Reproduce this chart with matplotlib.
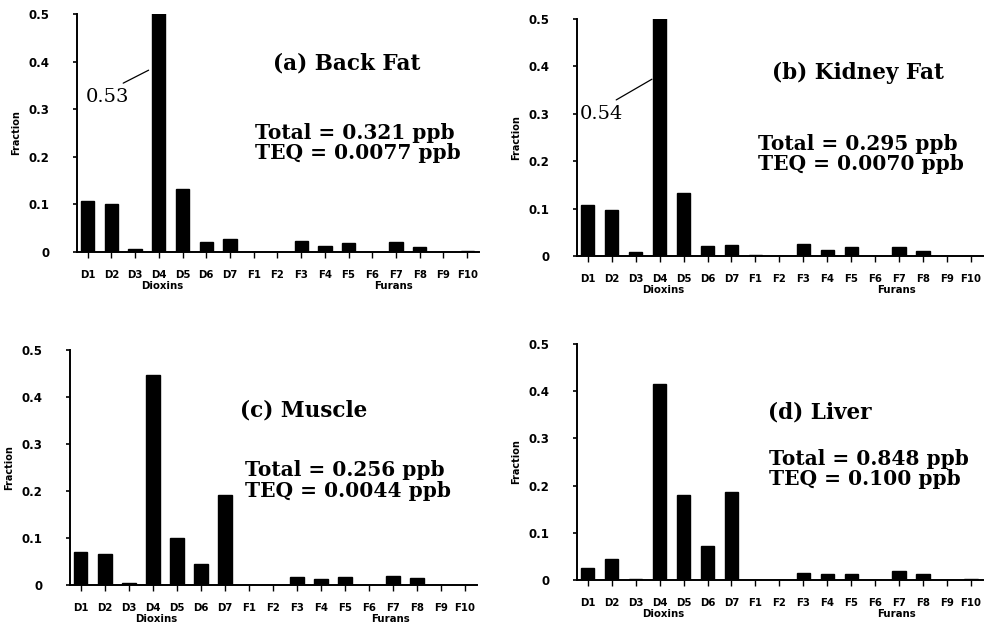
import matplotlib
matplotlib.use("Agg")
import matplotlib.pyplot as plt
import numpy as np

categories = ["D1", "D2", "D3", "D4", "D5", "D6", "D7", "F1", "F2", "F3",
              "F4", "F5", "F6", "F7", "F8", "F9", "F10"]

back_fat = [0.108, 0.101, 0.006, 0.53, 0.132, 0.021, 0.027, 0.0, 0.001, 0.024,
            0.013, 0.018, 0.001, 0.020, 0.010, 0.001, 0.002]
kidney_fat = [0.107, 0.098, 0.008, 0.54, 0.132, 0.021, 0.023, 0.002, 0.001, 0.026,
              0.013, 0.019, 0.0, 0.020, 0.010, 0.0, 0.0]
muscle = [0.071, 0.066, 0.005, 0.447, 0.099, 0.045, 0.191, 0.001, 0.001, 0.018,
          0.012, 0.017, 0.001, 0.020, 0.015, 0.001, 0.001]
liver = [0.025, 0.044, 0.002, 0.415, 0.180, 0.072, 0.186, 0.001, 0.001, 0.015,
         0.012, 0.013, 0.001, 0.020, 0.013, 0.001, 0.003]

titles = ["(a) Back Fat", "(b) Kidney Fat", "(c) Muscle", "(d) Liver"]
totals = ["Total = 0.321 ppb\nTEQ = 0.0077 ppb",
          "Total = 0.295 ppb\nTEQ = 0.0070 ppb",
          "Total = 0.256 ppb\nTEQ = 0.0044 ppb",
          "Total = 0.848 ppb\nTEQ = 0.100 ppb"]
peak_labels = ["0.53", "0.54", None, None]
yticks = [0, 0.1, 0.2, 0.3, 0.4, 0.5]
ytick_labels = ["0", "0.1", "0.2", "0.3", "0.4", "0.5"]
group_labels = ["Dioxins", "Furans"]

series = [back_fat, kidney_fat, muscle, liver]

fig = plt.figure(figsize=(9.91, 6.25), dpi=100)
rects = [
    [0.0777, 0.5968, 0.4057, 0.3808],
    [0.5822, 0.5904, 0.4097, 0.3792],
    [0.0706, 0.0640, 0.4107, 0.3760],
    [0.5822, 0.0720, 0.4097, 0.3776],
]
title_pos = [(7.8, 0.397), (7.7, 0.386), (6.65, 0.372), (7.54, 0.354)]
total_pos = [(7.07, 0.229), (7.1, 0.215), (6.86, 0.223), (7.58, 0.235)]
peak_text_pos = [(-0.08, 0.326), (-0.34, 0.30)]
peak_line_end = [(2.57, 0.382), (2.68, 0.373)]

sans = "DejaVu Sans"
serif = "DejaVu Serif"

for i, vals in enumerate(series):
    ax = fig.add_axes(rects[i])
    x = np.arange(len(categories))
    ax.bar(x, vals, width=0.56, color="black", edgecolor="black")
    ax.set_xlim(-0.45, len(categories) - 0.5)
    ax.set_ylim(0, 0.5)
    ax.spines["top"].set_visible(False)
    ax.spines["right"].set_visible(False)
    for s in ["left", "bottom"]:
        ax.spines[s].set_linewidth(1.4)
    ax.set_yticks(yticks)
    ax.set_yticklabels(ytick_labels, fontfamily=sans, fontweight="bold", fontsize=8.5)
    ax.set_xticks(x)
    ax.set_xticklabels(categories, fontfamily=sans, fontweight="bold", fontsize=7.3)
    ax.tick_params(axis="y", direction="out", length=3, width=1.2, pad=17)
    ax.tick_params(axis="x", direction="out", length=4, width=1.0, pad=9)
    ax.set_ylabel("Fraction", fontfamily=sans, fontweight="bold", fontsize=7, labelpad=5)
    # group labels under the ticks
    ax.text(3.16, -0.072, group_labels[0], ha="center", va="center",
            fontfamily=sans, fontweight="bold", fontsize=7.3)
    ax.text(12.9, -0.072, group_labels[1], ha="center", va="center",
            fontfamily=sans, fontweight="bold", fontsize=7.3)
    ax.text(title_pos[i][0], title_pos[i][1], titles[i], ha="left", va="center",
            fontfamily=serif, fontweight="bold", fontsize=15.5)
    ax.text(total_pos[i][0], total_pos[i][1], totals[i], ha="left", va="center",
            fontfamily=serif, fontweight="bold", fontsize=14.5, linespacing=1.05)
    if peak_labels[i] is not None:
        ax.annotate(peak_labels[i], xy=peak_line_end[i], xytext=peak_text_pos[i][0:2],
                    textcoords="data", ha="left", va="center",
                    fontfamily=serif, fontsize=14,
                    arrowprops=dict(arrowstyle="-", lw=0.9, color="black",
                                    shrinkA=3, shrinkB=0, relpos=(0.65, 1.0)))

fig.savefig("out.png", dpi=100)
